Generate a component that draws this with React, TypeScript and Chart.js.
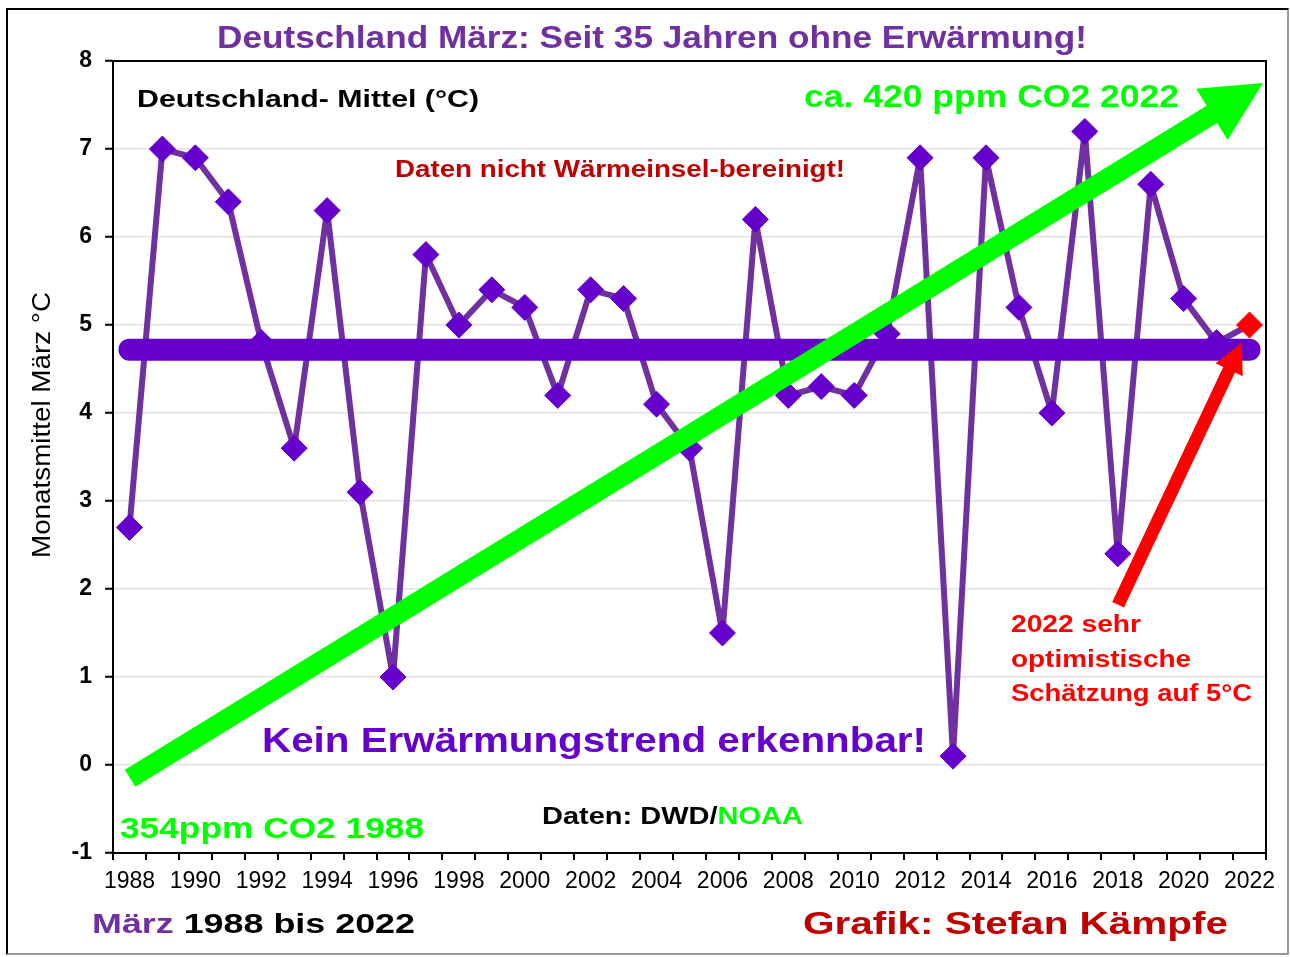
import React, { useEffect, useRef } from 'react';
import { Chart, registerables } from 'chart.js';

Chart.register(...registerables);

const FONT = '"Liberation Sans", Arial, Helvetica, sans-serif';

// ---- data -------------------------------------------------------------
const years = [
  '1988', '1989', '1990', '1991', '1992', '1993', '1994', '1995', '1996', '1997',
  '1998', '1999', '2000', '2001', '2002', '2003', '2004', '2005', '2006', '2007',
  '2008', '2009', '2010', '2011', '2012', '2013', '2014', '2015', '2016', '2017',
  '2018', '2019', '2020', '2021', '2022',
];
const marchMeans = [
  2.7, 7.0, 6.9, 6.4, 4.8, 3.6, 6.3, 3.1, 1.0, 5.8,
  5.0, 5.4, 5.2, 4.2, 5.4, 5.3, 4.1, 3.6, 1.5, 6.2,
  4.2, 4.3, 4.2, 4.9, 6.9, 0.1, 6.9, 5.2, 4.0, 7.2,
  2.4, 6.6, 5.3, 4.8, 5.0,
];
const meanLevel = 4.72;
const estimatedYear = '2022';
const yMin = -1;
const yMax = 8;

// arrow annotations in data space (year, °C)
const co2ArrowStart = { year: 1988.02, value: -0.15 };
const co2ArrowEnd = { year: 2022.41, value: 7.75 };
const estimateArrowStart = { year: 2018.01, value: 1.82 };
const estimateArrowEnd = { year: 2021.77, value: 4.8 };

// texts
const titleText = 'Deutschland März: Seit 35 Jahren ohne Erwärmung!';
const seriesText = 'Deutschland- Mittel (°C)';
const co2NowText = 'ca. 420 ppm CO2 2022';
const warningText = 'Daten nicht Wärmeinsel-bereinigt!';
const noTrendText = 'Kein Erwärmungstrend erkennbar!';
const sourceTextA = 'Daten: DWD/';
const sourceTextB = 'NOAA';
const co2ThenText = '354ppm CO2 1988';
const estimateLines = ['2022 sehr', 'optimistische', 'Schätzung auf 5°C'];
const periodTextA = 'März';
const periodTextB = ' 1988 bis 2022';
const creditText = 'Grafik: Stefan Kämpfe';
const yAxisTitle = 'Monatsmittel März °C';

// ---- drawing helpers ----------------------------------------------------
type Part = { text: string; color: string };

function drawStretched(
  ctx: CanvasRenderingContext2D,
  parts: Part[],
  left: number,
  baseline: number,
  size: number,
  width: number,
  weight = 'bold',
  rotate = 0,
) {
  ctx.save();
  ctx.font = `${weight} ${size}px ${FONT}`;
  const widths = parts.map((p) => ctx.measureText(p.text).width);
  const total = widths.reduce((s, w) => s + w, 0);
  ctx.translate(left, baseline);
  if (rotate) ctx.rotate(rotate);
  ctx.scale(width / total, 1);
  ctx.textAlign = 'left';
  ctx.textBaseline = 'alphabetic';
  let x = 0;
  parts.forEach((p, i) => {
    ctx.fillStyle = p.color;
    ctx.fillText(p.text, x, 0);
    x += widths[i];
  });
  ctx.restore();
}

function drawArrow(
  ctx: CanvasRenderingContext2D,
  x1: number, y1: number, x2: number, y2: number,
  shaft: number, headLen: number, headWidth: number, color: string,
) {
  const dx = x2 - x1;
  const dy = y2 - y1;
  const len = Math.hypot(dx, dy);
  const ux = dx / len;
  const uy = dy / len;
  const nx = -uy;
  const ny = ux;
  const bx = x2 - ux * headLen;
  const by = y2 - uy * headLen;
  const s = shaft / 2;
  const h = headWidth / 2;
  ctx.save();
  ctx.fillStyle = color;
  ctx.beginPath();
  ctx.moveTo(x1 + nx * s, y1 + ny * s);
  ctx.lineTo(bx + nx * s, by + ny * s);
  ctx.lineTo(bx + nx * h, by + ny * h);
  ctx.lineTo(x2, y2);
  ctx.lineTo(bx - nx * h, by - ny * h);
  ctx.lineTo(bx - nx * s, by - ny * s);
  ctx.lineTo(x1 - nx * s, y1 - ny * s);
  ctx.closePath();
  ctx.fill();
  ctx.restore();
}

const annotationPlugin = {
  id: 'annotations',
  afterDatasetsDraw(chart: any) {
    const { ctx, chartArea: a } = chart;
    const xs = chart.scales.x;
    const ys = chart.scales.y;
    const firstYear = Number(years[0]);
    const px = (yr: number) => xs.getPixelForValue(yr - firstYear);
    const py = (v: number) => ys.getPixelForValue(v);

    // frame of plot area (top + right)
    ctx.save();
    ctx.strokeStyle = '#000';
    ctx.lineWidth = 2;
    ctx.beginPath();
    ctx.moveTo(a.left, a.top);
    ctx.lineTo(a.right, a.top);
    ctx.lineTo(a.right, a.bottom);
    ctx.stroke();
    ctx.restore();

    drawArrow(
      ctx,
      px(co2ArrowStart.year), py(co2ArrowStart.value),
      px(co2ArrowEnd.year), py(co2ArrowEnd.value),
      20, 60, 60, '#00FF00',
    );
    drawArrow(
      ctx,
      px(estimateArrowStart.year), py(estimateArrowStart.value),
      px(estimateArrowEnd.year), py(estimateArrowEnd.value),
      13, 30, 30, '#FF0000',
    );
  },
  afterDraw(chart: any) {
    const { ctx } = chart;
    drawStretched(ctx, [{ text: titleText, color: '#7030A0' }], 217, 48, 32, 870);
    drawStretched(ctx, [{ text: seriesText, color: '#000000' }], 137, 107, 23, 342);
    drawStretched(ctx, [{ text: co2NowText, color: '#00FF00' }], 804, 107, 31, 375);
    drawStretched(ctx, [{ text: warningText, color: '#C00000' }], 395, 177, 23, 450);
    drawStretched(ctx, [{ text: noTrendText, color: '#6600CC' }], 262, 752, 35, 664);
    drawStretched(
      ctx,
      [{ text: sourceTextA, color: '#000000' }, { text: sourceTextB, color: '#00FF00' }],
      542, 824, 23, 261,
    );
    drawStretched(ctx, [{ text: co2ThenText, color: '#00FF00' }], 120, 838, 29, 304);
    const noteBase = [632, 667, 701];
    const noteWidth = [130, 180, 241];
    estimateLines.forEach((line, i) => {
      drawStretched(ctx, [{ text: line, color: '#FF0000' }], 1011, noteBase[i], 23, noteWidth[i]);
    });
    drawStretched(
      ctx,
      [{ text: periodTextA, color: '#7030A0' }, { text: periodTextB, color: '#000000' }],
      92, 933, 28, 323,
    );
    drawStretched(ctx, [{ text: creditText, color: '#C00000' }], 803, 934, 31, 425);
    drawStretched(
      ctx, [{ text: yAxisTitle, color: '#000000' }],
      49.5, 558, 26, 266, 'normal', -Math.PI / 2,
    );
  },
};

export default function App() {
  const ref = useRef<HTMLCanvasElement>(null);

  useEffect(() => {
    const canvas = ref.current;
    if (!canvas) return;
    const pointColors = years.map((y) => (y === estimatedYear ? '#FF0000' : '#6600CC'));

    const chart = new Chart(canvas, {
      type: 'line',
      data: {
        labels: years,
        datasets: [
          {
            label: 'Mittel',
            data: years.map(() => meanLevel),
            borderColor: '#6600CC',
            borderWidth: 22,
            borderCapStyle: 'round',
            pointRadius: 0,
            order: 0,
          },
          {
            label: 'März',
            data: marchMeans,
            borderColor: '#7030A0',
            borderWidth: 6,
            borderJoinStyle: 'round',
            pointStyle: 'rectRot',
            pointRadius: 13,
            pointBorderWidth: 1,
            pointBackgroundColor: pointColors,
            pointBorderColor: pointColors,
            tension: 0,
            order: 1,
          },
        ],
      },
      options: {
        responsive: false,
        animation: false,
        devicePixelRatio: 1,
        events: [],
        layout: { padding: { top: 61, right: 24, left: 0, bottom: 0 } },
        plugins: { legend: { display: false }, tooltip: { enabled: false } },
        scales: {
          x: {
            type: 'category',
            offset: true,
            grid: {
              offset: true,
              drawOnChartArea: false,
              tickColor: '#000',
              tickLength: 7,
              tickWidth: 2,
              lineWidth: 2,
            },
            border: { color: '#000', width: 2 },
            ticks: {
              autoSkip: false,
              maxRotation: 0,
              minRotation: 0,
              color: '#000',
              padding: 8,
              font: { family: FONT, size: 23, weight: 'normal' },
              callback: (_v: any, i: number) => (i % 2 === 0 ? years[i] : ''),
            },
            afterFit: (s: any) => {
              s.height = 104;
              s.paddingLeft = 0;
              s.paddingRight = 0;
            },
          },
          y: {
            min: yMin,
            max: yMax,
            grid: {
              color: '#e2e2e2',
              lineWidth: 1.5,
              tickColor: '#000',
              tickLength: 8,
              tickWidth: 2,
            },
            border: { color: '#000', width: 2 },
            ticks: {
              stepSize: 1,
              color: '#000',
              padding: 13,
              font: { family: FONT, size: 23, weight: 'bold' },
            },
            afterFit: (s: any) => {
              s.width = 113;
              s.paddingTop = 0;
              s.paddingBottom = 0;
            },
          },
        },
      },
      plugins: [annotationPlugin],
    } as any);

    return () => chart.destroy();
  }, []);

  return (
    <div style={{ position: 'absolute', left: 0, top: 0, width: 1290, height: 957, background: '#fff', overflow: 'hidden' }}>
      <div
        style={{
          position: 'absolute',
          left: 6,
          top: 8,
          width: 1279,
          height: 943,
          borderStyle: 'solid',
          borderWidth: 2,
          borderColor: '#000 #999 #999 #000',
        }}
      />
      <canvas
        ref={ref}
        width={1290}
        height={957}
        style={{ position: 'absolute', left: 0, top: 0, width: 1290, height: 957 }}
      />
    </div>
  );
}
